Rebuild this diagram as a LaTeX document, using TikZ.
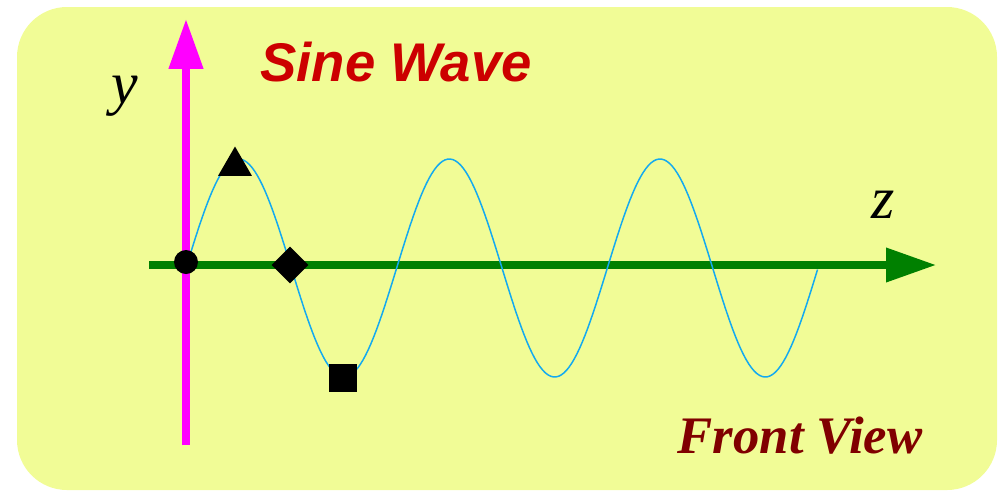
\documentclass[tikz,border=0pt]{standalone}
\usepackage{fontspec}
\setmainfont{Liberation Serif}
\setsansfont{Liberation Sans}
\usepackage{tikz}
\usetikzlibrary{shapes.geometric, arrows.meta}
\definecolor{paneYellow}{RGB}{241,252,150}
\definecolor{waveBlue}{RGB}{20,170,240}
\definecolor{axisGreen}{RGB}{0,128,0}
\definecolor{axisMagenta}{RGB}{255,0,255}
\definecolor{titleRed}{RGB}{204,0,0}
\definecolor{viewRed}{RGB}{128,0,0}

\begin{document}
\begin{tikzpicture}[x=0.02cm, y=-0.02cm,
marker/.style={fill=black, draw=none, inner sep=0pt},
axis/.style={-{Triangle[length=1cm, width=0.66cm]}},
axislabel/.style={font=\fontsize{34}{34}\selectfont\itshape, inner sep=0pt},
wave/.style={waveBlue, line width=0.85pt}]
\useasboundingbox (0,0) rectangle (1007,491);
\fill[paneYellow, rounded corners=1cm] (17,7) rectangle (997,490);
% axes
\coordinate (zstart) at (149,265);
\coordinate (zend)   at (936,265);
\coordinate (ystart) at (186,445);
\coordinate (yend)   at (186,19);
\draw[axis, axisGreen, line width=4pt] (zstart) -- (zend);
\draw[axis, axisMagenta, line width=4.4pt] (ystart) -- (yend);
% wave
\draw[wave] plot[domain=0:3, samples=240] ({186+210.67*\x}, {268-109*sin(360*\x)});
% markers
\node[marker, circle, minimum size=0.48cm] (origin) at (186,262) {};
\node[marker, regular polygon, regular polygon sides=3, minimum size=0.78cm] (crest) at (235,166) {};
\node[marker, diamond, minimum size=0.74cm] (cross) at (290,265) {};
\node[marker, rectangle, minimum size=0.55cm] (trough) at (343,378) {};
% labels
\node[axislabel] (ylabel) at (125,96) {y};
\node[axislabel] (zlabel) at (883,205) {z};
\node[font=\fontsize{31}{31}\selectfont\sffamily\bfseries\itshape, text=titleRed, inner sep=0pt] (title) at (396,62) {Sine Wave};
\node[font=\fontsize{30}{30}\selectfont\bfseries\itshape, text=viewRed, inner sep=0pt] (view) at (800,436) {Front View};
\end{tikzpicture}
\end{document}
